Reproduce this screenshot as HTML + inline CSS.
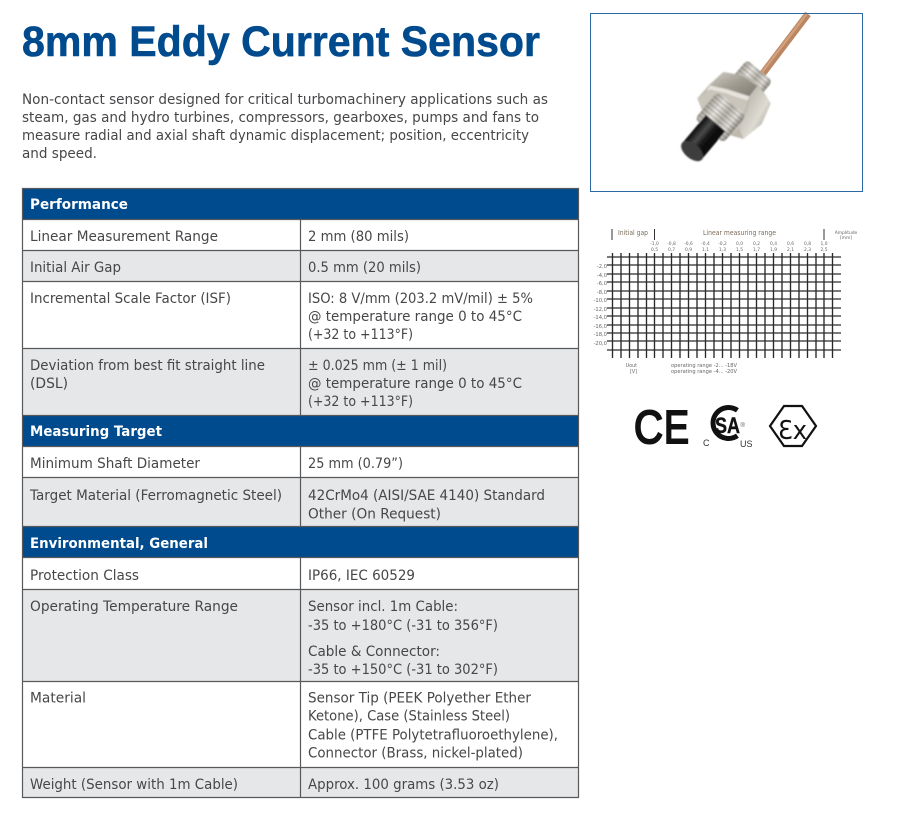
<!DOCTYPE html>
<html><head><meta charset="utf-8"><title>8mm Eddy Current Sensor</title>
<style>
html,body{margin:0;padding:0;background:#fff;width:903px;height:822px;overflow:hidden}
svg{display:block}
.t{font-family:"DejaVu Sans",sans-serif;font-size:14px;fill:#47474a}
.h{font-family:"DejaVu Sans",sans-serif;font-size:14px;font-weight:bold;fill:#fff}
.p{font-family:"DejaVu Sans",sans-serif;font-size:14px;fill:#47474a}
.s{font-family:"DejaVu Sans",sans-serif;font-size:4.4px;fill:#666;text-anchor:middle}
.l{font-family:"DejaVu Sans",sans-serif;font-size:5.2px;fill:#666;text-anchor:end}
.m{font-family:"DejaVu Sans",sans-serif;font-size:6.6px;fill:#7a6a5a}
</style></head><body>
<svg width="903" height="822" viewBox="0 0 903 822" xmlns="http://www.w3.org/2000/svg">
<defs>
<linearGradient id="met" x1="0" y1="0" x2="0" y2="1"><stop offset="0" stop-color="#8d897f"/><stop offset=".3" stop-color="#e6e3dc"/><stop offset=".55" stop-color="#a5a197"/><stop offset=".8" stop-color="#dfdcd4"/><stop offset="1" stop-color="#6f6b62"/></linearGradient>
<linearGradient id="nut1" x1="0" y1="0" x2="1" y2="1"><stop offset="0" stop-color="#cfccc4"/><stop offset=".5" stop-color="#a09c92"/><stop offset="1" stop-color="#7d796f"/></linearGradient>
<linearGradient id="nut2" x1="0" y1="0" x2="1" y2="1"><stop offset="0" stop-color="#a9a59b"/><stop offset=".6" stop-color="#dedbd3"/><stop offset="1" stop-color="#7f7b71"/></linearGradient>
<linearGradient id="blk" x1="0" y1="0" x2="0" y2="1"><stop offset="0" stop-color="#0a0a0a"/><stop offset=".35" stop-color="#4a4a4a"/><stop offset=".6" stop-color="#151515"/><stop offset="1" stop-color="#050505"/></linearGradient>
<pattern id="thr" patternUnits="userSpaceOnUse" width="12" height="12"><rect width="12" height="12" fill="#fff" opacity=".2"/><rect width="4" height="12" fill="#3a3833" opacity=".3"/></pattern>
<filter id="bl" x="-10%" y="-10%" width="120%" height="120%"><feGaussianBlur stdDeviation="2.5"/></filter>
</defs>

<text x="22" y="56" textLength="518" lengthAdjust="spacingAndGlyphs" font-family="'Liberation Sans',sans-serif" font-size="43" font-weight="bold" fill="#004b8d" stroke="#004b8d" stroke-width=".6">8mm Eddy Current Sensor</text>

<text class="p" x="22" y="104" textLength="526" lengthAdjust="spacingAndGlyphs">Non-contact sensor designed for critical turbomachinery applications such as</text>
<text class="p" x="22" y="122" textLength="517" lengthAdjust="spacingAndGlyphs">steam, gas and hydro turbines, compressors, gearboxes, pumps and fans to</text>
<text class="p" x="22" y="140" textLength="507" lengthAdjust="spacingAndGlyphs">measure radial and axial shaft dynamic displacement; position, eccentricity</text>
<text class="p" x="22" y="158" textLength="75" lengthAdjust="spacingAndGlyphs">and speed.</text>

<!-- table fills -->
<rect x="22" y="188" width="557" height="610" fill="#fff"/>
<rect x="22" y="188" width="557" height="32" fill="#004b8d"/>
<rect x="22" y="250" width="557" height="31" fill="#e6e7e8"/>
<rect x="22" y="348" width="557" height="67" fill="#e6e7e8"/>
<rect x="22" y="415" width="557" height="31" fill="#004b8d"/>
<rect x="22" y="477" width="557" height="49" fill="#e6e7e8"/>
<rect x="22" y="526" width="557" height="32" fill="#004b8d"/>
<rect x="22" y="589" width="557" height="92" fill="#e6e7e8"/>
<rect x="22" y="767" width="557" height="30" fill="#e6e7e8"/>
<g stroke="#58595b" stroke-width="1.2" fill="none">
<path d="M22 188.5H579M22 219.5H579M22 250.5H579M22 281.5H579M22 348.5H579M22 415.5H579M22 446.5H579M22 477.5H579M22 526.5H579M22 557.5H579M22 589.5H579M22 681.5H579M22 767.5H579M22 797.5H579"/>
<path d="M22.5 188V798M578.5 188V798"/>
<path d="M300.5 220V415M300.5 446V526M300.5 558V798"/>
</g>

<text class="h" x="30" y="209" textLength="98" lengthAdjust="spacingAndGlyphs">Performance</text>
<text class="t" x="30" y="241" textLength="188" lengthAdjust="spacingAndGlyphs">Linear Measurement Range</text>
<text class="t" x="30" y="272" textLength="91" lengthAdjust="spacingAndGlyphs">Initial Air Gap</text>
<text class="t" x="30" y="303" textLength="201" lengthAdjust="spacingAndGlyphs">Incremental Scale Factor (ISF)</text>
<text class="t" x="30" y="370" textLength="235" lengthAdjust="spacingAndGlyphs">Deviation from best fit straight line</text>
<text class="t" x="30" y="388" textLength="38" lengthAdjust="spacingAndGlyphs">(DSL)</text>
<text class="h" x="30" y="436" textLength="132" lengthAdjust="spacingAndGlyphs">Measuring Target</text>
<text class="t" x="30" y="468" textLength="170" lengthAdjust="spacingAndGlyphs">Minimum Shaft Diameter</text>
<text class="t" x="30" y="500" textLength="252" lengthAdjust="spacingAndGlyphs">Target Material (Ferromagnetic Steel)</text>
<text class="h" x="30" y="548" textLength="178" lengthAdjust="spacingAndGlyphs">Environmental, General</text>
<text class="t" x="30" y="580" textLength="109" lengthAdjust="spacingAndGlyphs">Protection Class</text>
<text class="t" x="30" y="611" textLength="208" lengthAdjust="spacingAndGlyphs">Operating Temperature Range</text>
<text class="t" x="30" y="702.5" textLength="56" lengthAdjust="spacingAndGlyphs">Material</text>
<text class="t" x="30" y="789" textLength="208" lengthAdjust="spacingAndGlyphs">Weight (Sensor with 1m Cable)</text>

<text class="t" x="308" y="241" textLength="101" lengthAdjust="spacingAndGlyphs">2 mm (80 mils)</text>
<text class="t" x="308" y="272" textLength="113" lengthAdjust="spacingAndGlyphs">0.5 mm (20 mils)</text>
<text class="t" x="308" y="303" textLength="225" lengthAdjust="spacingAndGlyphs">ISO: 8 V/mm (203.2 mV/mil) ± 5%</text>
<text class="t" x="308" y="321" textLength="214" lengthAdjust="spacingAndGlyphs">@ temperature range 0 to 45°C</text>
<text class="t" x="308" y="339" textLength="105" lengthAdjust="spacingAndGlyphs">(+32 to +113°F)</text>
<text class="t" x="308" y="370" textLength="139" lengthAdjust="spacingAndGlyphs">± 0.025 mm (± 1 mil)</text>
<text class="t" x="308" y="388" textLength="214" lengthAdjust="spacingAndGlyphs">@ temperature range 0 to 45°C</text>
<text class="t" x="308" y="406" textLength="105" lengthAdjust="spacingAndGlyphs">(+32 to +113°F)</text>
<text class="t" x="308" y="468" textLength="95" lengthAdjust="spacingAndGlyphs">25 mm (0.79”)</text>
<text class="t" x="308" y="500" textLength="237" lengthAdjust="spacingAndGlyphs">42CrMo4 (AISI/SAE 4140) Standard</text>
<text class="t" x="308" y="518.5" textLength="133" lengthAdjust="spacingAndGlyphs">Other (On Request)</text>
<text class="t" x="308" y="580" textLength="107" lengthAdjust="spacingAndGlyphs">IP66, IEC 60529</text>
<text class="t" x="308" y="611" textLength="150" lengthAdjust="spacingAndGlyphs">Sensor incl. 1m Cable:</text>
<text class="t" x="308" y="630" textLength="190" lengthAdjust="spacingAndGlyphs">-35 to +180°C (-31 to 356°F)</text>
<text class="t" x="308" y="656" textLength="132" lengthAdjust="spacingAndGlyphs">Cable &amp; Connector:</text>
<text class="t" x="308" y="674" textLength="190" lengthAdjust="spacingAndGlyphs">-35 to +150°C (-31 to 302°F)</text>
<text class="t" x="308" y="702.5" textLength="223" lengthAdjust="spacingAndGlyphs">Sensor Tip (PEEK Polyether Ether</text>
<text class="t" x="308" y="720.5" textLength="202" lengthAdjust="spacingAndGlyphs">Ketone), Case (Stainless Steel)</text>
<text class="t" x="308" y="739.5" textLength="250" lengthAdjust="spacingAndGlyphs">Cable (PTFE Polytetrafluoroethylene),</text>
<text class="t" x="308" y="757.5" textLength="215" lengthAdjust="spacingAndGlyphs">Connector (Brass, nickel-plated)</text>
<text class="t" x="308" y="789" textLength="191" lengthAdjust="spacingAndGlyphs">Approx. 100 grams (3.53 oz)</text>

<!-- photo -->
<rect x="590.5" y="13.5" width="272" height="178" fill="#fff"/>
<g transform="translate(660,60) scale(.3333)">
<path d="M305 45L444 -138" stroke="#bb8762" stroke-width="21" fill="none"/>
<path d="M303 41L442 -141" stroke="#d2a07c" stroke-width="7" fill="none"/>
<g filter="url(#bl)">
<g transform="translate(95,275) rotate(-50)">
<rect x="250" y="-50" width="68" height="100" rx="14" fill="url(#met)"/>
<rect x="250" y="-50" width="68" height="100" rx="14" fill="url(#thr)"/>
</g>
<path d="M112 115L150 72L190 36L245 45L295 72L332 130L305 192L250 237L212 226L128 155Z" fill="#bdb9af"/>
<path d="M152 78L190 38L245 46L292 78L268 108L200 86Z" fill="url(#nut1)"/>
<path d="M150 76L200 88L268 110L262 122L195 100L140 92Z" fill="#e6e3dc"/>
<path d="M268 110L294 76L332 130L305 192L250 237L238 205L262 150Z" fill="url(#nut2)"/>
<path d="M112 115L150 88L200 100L262 125L240 200L212 226L128 155Z" fill="#c9c5bb"/>
<g transform="translate(95,275) rotate(-50)">
<rect x="80" y="-56" width="108" height="112" rx="16" fill="url(#met)"/>
<rect x="80" y="-56" width="108" height="112" rx="16" fill="url(#thr)"/>
<rect x="0" y="-38" width="112" height="76" fill="url(#blk)"/>
<ellipse cx="2" cy="0" rx="22" ry="39" fill="#3d3d3d"/>
</g>
</g>
</g>
<rect x="590.5" y="13.5" width="272" height="178" fill="none" stroke="#2b6aa5" stroke-width="1"/>

<!-- chart -->
<g stroke="#2a2a2a" stroke-width="1.35" fill="none" id="grid">
<path d="M612.5 253V358M621 253V358M629.5 253V358M638 253V358M646.5 253V358M654.5 253V358M663 253V358M671.5 253V358M680 253V358M688.5 253V358M697 253V358M705.5 253V358M714 253V358M722.5 253V358M731 253V358M739.5 253V358M748 253V358M756.5 253V358M765 253V358M773.5 253V358M782 253V358M790.5 253V358M799 253V358M807.5 253V358M816 253V358M824 253V358M832.5 253V358"/>
<path d="M607 257H841M607 265H841M607 274H841M607 282H841M607 291H841M607 299H841M607 308H841M607 316H841M607 325H841M607 333H841M607 341H841M607 350H841"/>
</g>
<path d="M612 229V240M654.5 229V240M824 229V240" stroke="#333" stroke-width="1"/>
<text class="m" x="618" y="235" textLength="30" lengthAdjust="spacingAndGlyphs">Initial gap</text>
<text class="m" x="703" y="235" textLength="73" lengthAdjust="spacingAndGlyphs">Linear measuring range</text>
<text class="s" x="846" y="234">Amplitude</text><text class="s" x="846" y="239">[mm]</text>
<g>
<text class="s" x="654.5" y="245">-1,0</text><text class="s" x="671.5" y="245">-0,8</text><text class="s" x="688.5" y="245">-0,6</text><text class="s" x="705.5" y="245">-0,4</text><text class="s" x="722.5" y="245">-0,2</text><text class="s" x="739.5" y="245">0,0</text><text class="s" x="756.5" y="245">0,2</text><text class="s" x="773.5" y="245">0,4</text><text class="s" x="790.5" y="245">0,6</text><text class="s" x="807.5" y="245">0,8</text><text class="s" x="824" y="245">1,0</text>
<text class="s" x="654.5" y="251">0,5</text><text class="s" x="671.5" y="251">0,7</text><text class="s" x="688.5" y="251">0,9</text><text class="s" x="705.5" y="251">1,1</text><text class="s" x="722.5" y="251">1,3</text><text class="s" x="739.5" y="251">1,5</text><text class="s" x="756.5" y="251">1,7</text><text class="s" x="773.5" y="251">1,9</text><text class="s" x="790.5" y="251">2,1</text><text class="s" x="807.5" y="251">2,3</text><text class="s" x="824" y="251">2,5</text>
</g>
<g>
<text class="l" x="607" y="268">-2,0</text><text class="l" x="607" y="277">-4,0</text><text class="l" x="607" y="285">-6,0</text><text class="l" x="607" y="294">-8,0</text><text class="l" x="607" y="302">-10,0</text><text class="l" x="607" y="311">-12,0</text><text class="l" x="607" y="319">-14,0</text><text class="l" x="607" y="328">-16,0</text><text class="l" x="607" y="336">-18,0</text><text class="l" x="607" y="345">-20,0</text>
</g>
<text class="l" x="637" y="367" style="font-size:4.8px">Uout</text>
<text class="l" x="637" y="373" style="font-size:4.8px">[V]</text>
<text x="671" y="367" font-family="'DejaVu Sans',sans-serif" font-size="4.8" fill="#666" textLength="66" lengthAdjust="spacingAndGlyphs">operating range -2... -18V</text>
<text x="671" y="373" font-family="'DejaVu Sans',sans-serif" font-size="4.8" fill="#666" textLength="66" lengthAdjust="spacingAndGlyphs">operating range -4... -20V</text>

<!-- logos -->
<text x="634" y="443" font-family="'Liberation Sans',sans-serif" font-size="46" fill="#111" stroke="#111" stroke-width="2" textLength="29" lengthAdjust="spacingAndGlyphs">C</text>
<text x="664" y="443" font-family="'Liberation Sans',sans-serif" font-size="46" fill="#111" stroke="#111" stroke-width="2" textLength="25" lengthAdjust="spacingAndGlyphs">E</text>
<path d="M737.4 410.3A15.5 15.5 0 1 0 737.4 435.7" fill="none" stroke="#111" stroke-width="5"/>
<text x="715" y="433" font-family="'Liberation Sans',sans-serif" font-weight="bold" font-size="22" fill="#111" stroke="#111" stroke-width=".4" textLength="25" lengthAdjust="spacingAndGlyphs">SA</text>
<text x="740.5" y="427" font-family="'Liberation Sans',sans-serif" font-size="6" fill="#555">®</text>
<text x="703" y="446" font-family="'Liberation Sans',sans-serif" font-size="9" fill="#333">C</text>
<text x="740" y="447" font-family="'Liberation Sans',sans-serif" font-size="9" fill="#333">US</text>
<path d="M784 406H802L816 426L802 446H784L770 426Z" fill="#fff" stroke="#111" stroke-width="2.2"/>
<text x="778" y="439" font-family="'DejaVu Sans',sans-serif" font-size="26" fill="#111" textLength="29" lengthAdjust="spacingAndGlyphs">Ɛx</text>
</svg>
</body></html>
